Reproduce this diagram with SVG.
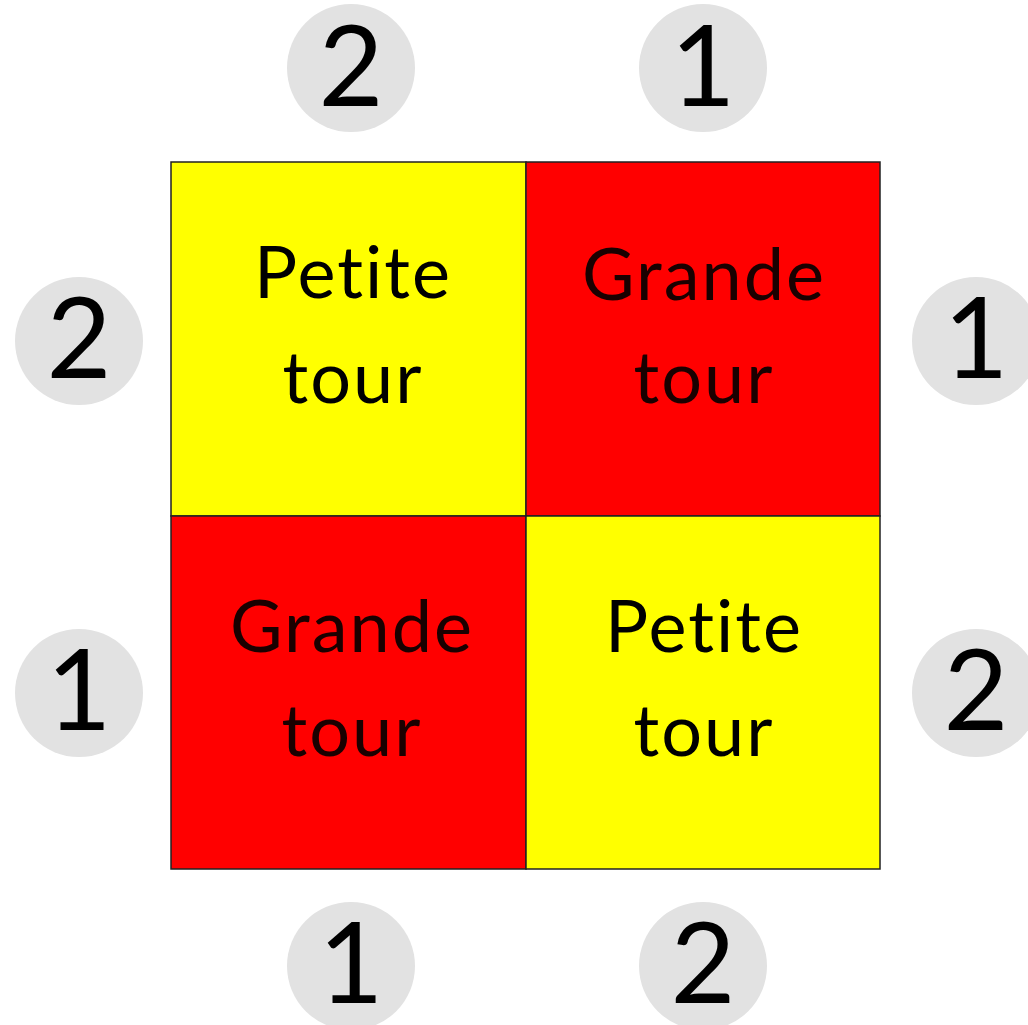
<svg xmlns="http://www.w3.org/2000/svg" width="1028" height="1025" viewBox="0 0 1028 1025">
<style>
.badge circle{fill:#e2e2e2}
.badge text{font-family:Lato,"Liberation Sans",sans-serif;font-size:112px;fill:#000;text-anchor:middle}
.cell rect{stroke:#222;stroke-width:1.5}
.cell text{font-family:Lato,"Liberation Sans",sans-serif;font-size:72px;letter-spacing:2px;text-anchor:middle}
.y{fill:#ffff00}
.r{fill:#ff0000}
.ty{fill:#000}
.tr{fill:#1a0000}
</style>
<rect width="1028" height="1025" fill="#fff"/>
<g id="cell-tl" class="cell"><rect class="y" x="171" y="162" width="355" height="354"/><text class="ty" x="353" y="298">Petite</text><text class="ty" x="353" y="403">tour</text></g>
<g id="cell-tr" class="cell"><rect class="r" x="526" y="162" width="354" height="354"/><text class="tr" x="704" y="300">Grande</text><text class="tr" x="704" y="403">tour</text></g>
<g id="cell-bl" class="cell"><rect class="r" x="171" y="516" width="355" height="353"/><text class="tr" x="352" y="652">Grande</text><text class="tr" x="352" y="756">tour</text></g>
<g id="cell-br" class="cell"><rect class="y" x="526" y="516" width="354" height="353"/><text class="ty" x="704" y="652">Petite</text><text class="ty" x="704" y="756">tour</text></g>
<g id="b-top-l" class="badge"><circle cx="351" cy="68" r="64"/><text x="351" y="106">2</text></g>
<g id="b-top-r" class="badge"><circle cx="703" cy="68" r="64"/><text x="703" y="106">1</text></g>
<g id="b-left-t" class="badge"><circle cx="79" cy="341" r="64"/><text x="79" y="378">2</text></g>
<g id="b-left-b" class="badge"><circle cx="79" cy="693" r="64"/><text x="79" y="730">1</text></g>
<g id="b-right-t" class="badge"><circle cx="976" cy="341" r="64"/><text x="976" y="378">1</text></g>
<g id="b-right-b" class="badge"><circle cx="976" cy="693" r="64"/><text x="976" y="730">2</text></g>
<g id="b-bot-l" class="badge"><circle cx="351" cy="966" r="64"/><text x="351" y="1003">1</text></g>
<g id="b-bot-r" class="badge"><circle cx="703" cy="966" r="64"/><text x="703" y="1003">2</text></g>
<g id="connectors"/>
</svg>
